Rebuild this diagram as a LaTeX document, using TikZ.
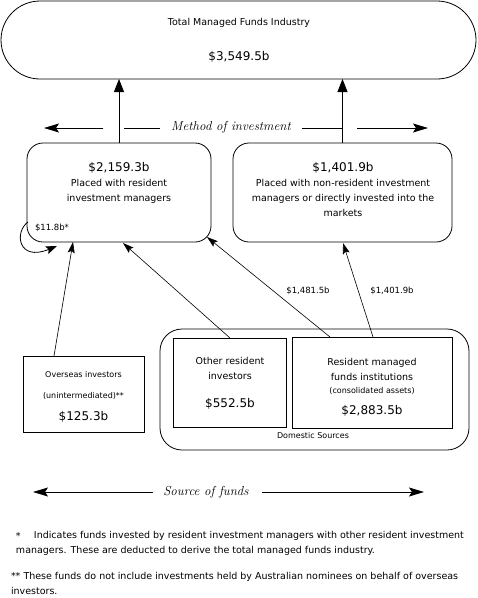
\documentclass[tikz,border=0pt]{standalone}
\usepackage{fontspec}
\newfontfamily\vs{DejaVu Sans}
\usetikzlibrary{arrows.meta,calc}
\begin{document}
\begin{tikzpicture}[x=1pt,y=-1pt,
  every node/.style={inner sep=0pt,outer sep=0pt},
  ln/.style={line width=0.8pt},
  txt/.style={font=\vs\fontsize{9.5}{15}\selectfont,align=center},
  big/.style={font=\vs\fontsize{12}{14}\selectfont},
  sml/.style={font=\vs\fontsize{8}{10}\selectfont},
  lbl/.style={font=\vs\fontsize{8.5}{10}\selectfont},
  note/.style={font=\vs\fontsize{9.5}{11}\selectfont,anchor=west},
  ital/.style={font=\itshape\fontsize{13}{15}\selectfont},
  rbox/.style={draw,ln,rounded corners=16pt},
  sbox/.style={draw,ln},
  uparrow/.style={ln,-{Triangle[length=13pt,width=10pt]}},
  harrow/.style={ln,-{Stealth[length=15pt,width=9pt,inset=3pt]}},
  darrow/.style={line width=0.6pt,-{Stealth[length=11pt,width=7pt,inset=2pt]}}
]
\useasboundingbox (0,0) rectangle (478,598);

% top stadium
\node[draw,ln,rounded corners=39pt,minimum width=475pt,minimum height=78pt] (top) at (238.5,40) {};
\node[txt] (toptxt) at (239,23) {Total Managed Funds Industry};
\node[big] (topval) at (239,57) {\$3,549.5b};

% method boxes
\node[rbox,minimum width=184pt,minimum height=99pt] (lb) at (119,192.5) {};
\node[rbox,minimum width=219pt,minimum height=99pt] (rb) at (342.5,192.5) {};
\node[big] (lbval) at (119,168) {\$2,159.3b};
\node[txt] (lbtxt) at (119,191) {Placed with resident\\investment managers};
\node[big] (rbval) at (343,168) {\$1,401.9b};
\node[txt] (rbtxt) at (343,198) {Placed with non-resident investment\\managers or directly invested into the\\markets};
\node[lbl,anchor=west] (selflbl) at (35,228) {\$11.8b*};

% arrows to top
\draw[uparrow] (lb.north) -- (lb.north |- top.south);
\draw[uparrow] (rb.north) -- (rb.north |- top.south);

% method of investment
\node[ital] (mi) at (231,127) {Method of investment};
\coordinate (m1) at (103,128); \coordinate (m1e) at (44,128);
\coordinate (m2) at (124,128); \coordinate (m2e) at (160,128);
\coordinate (m3) at (302,128); \coordinate (m3e) at (342,128);
\coordinate (m4) at (357,128); \coordinate (m4e) at (428,128);
\draw[harrow] (m1) -- (m1e);
\draw[ln] (m2) -- (m2e);
\draw[ln] (m3) -- (m3e);
\draw[harrow] (m4) -- (m4e);

% sources
\node[sbox,minimum width=121pt,minimum height=76pt] (ov) at (83.5,394) {};
\node[sml] (ovt1) at (83.5,375) {Overseas investors};
\node[sml] (ovt2) at (83.5,396) {(unintermediated)**};
\node[big] (ovval) at (83.5,417) {\$125.3b};

\node[draw,ln,rounded corners=22pt,minimum width=309pt,minimum height=121pt] (dom) at (314.5,389.5) {};
\node[sbox,minimum width=113pt,minimum height=89pt] (ot) at (229.5,382.5) {};
\node[sbox,minimum width=160pt,minimum height=91pt] (rm) at (372,382.5) {};
\node[txt] (ott) at (230,368) {Other resident\\investors};
\node[big] (otval) at (230,404) {\$552.5b};
\node[txt] (rmt) at (372,369) {Resident managed\\funds institutions};
\node[sml] (rmt2) at (372,391) {(consolidated assets)};
\node[big] (rmval) at (372,411) {\$2,883.5b};
\node[sml] (domt) at (313,436) {Domestic Sources};

% flows
\coordinate (ovs) at (54,356);
\coordinate (ovtip) at (73,242);
\coordinate (ots) at (230,338);
\coordinate (ottip) at (123,243);
\coordinate (rms1) at (330,337);
\coordinate (lbtip) at (207,237);
\coordinate (rms2) at (373,337);
\coordinate (rbtip) at (343,243);
\draw[darrow] (ovs) -- (ovtip);
\draw[darrow] (ots) -- (ottip);
\draw[darrow] (rms1) -- (lbtip);
\draw[darrow] (rms2) -- (rbtip);
\node[lbl] (l1) at (308,291) {\$1,481.5b};
\node[lbl] (l2) at (392,291) {\$1,401.9b};

% self loop
\coordinate (sl1) at (28,222);
\coordinate (sl2) at (57,246);
\draw[ln,-{Stealth[length=11pt,width=8pt,inset=2pt]}] (sl1) .. controls (14,232) and (18,262) .. (sl2);

% source of funds
\node[ital] (sf) at (206,492) {Source of funds};
\coordinate (s1) at (153,492); \coordinate (s1e) at (33,492);
\coordinate (s2) at (262,492); \coordinate (s2e) at (424,492);
\draw[harrow] (s1) -- (s1e);
\draw[harrow] (s2) -- (s2e);

% footnotes
\node[note] (f0) at (16,536) {*};
\node[note] (f1) at (34,536) {Indicates funds invested by resident investment managers with other resident investment};
\node[note] (f2) at (16,551) {managers. These are deducted to derive the total managed funds industry.};
\node[note] (f3) at (11,577) {** These funds do not include investments held by Australian nominees on behalf of overseas};
\node[note] (f4) at (11,591) {investors.};
\end{tikzpicture}
\end{document}
